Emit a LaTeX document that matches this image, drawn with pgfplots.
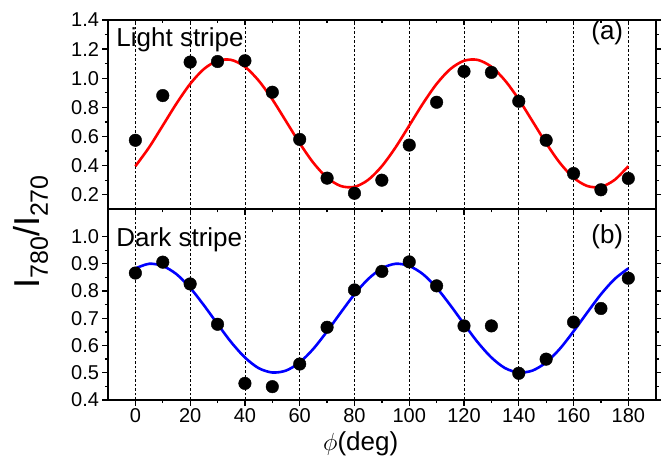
\documentclass[border=0pt]{standalone}
\usepackage{fontspec}
\setmainfont{Liberation Sans}
\usepackage{pgfplots}
\pgfplotsset{compat=1.18}

\pgfplotsset{
  stripe/.style={
    scale only axis, width=547.7bp,
    xmin=-10, xmax=190,
    xtick={0,20,...,180}, minor x tick num=1,
    tick align=outside, xtick pos=left, ytick pos=both,
    major tick length=5.5bp, minor tick length=3bp,
    axis line style={line width=1.6bp},
    every tick/.style={black, line width=1.3bp},
    xmajorgrids,
    grid style={black, line width=0.7bp, dash pattern=on 2.5bp off 2bp},
    tick label style={font=\fontsize{20bp}{24bp}\selectfont},
    /pgf/number format/assume math mode=true,
    y tick label style={/pgf/number format/.cd, fixed, fixed zerofill, precision=1},
  },
  pts/.style={only marks, mark=*, mark size=6.3bp, black, mark options={fill=black, draw=black}},
  fitline/.style={smooth, line width=2.6bp, mark=none},
}

\begin{document}
\begin{tikzpicture}
% ---------- (b) dark stripe ----------
\begin{axis}[stripe, name=bot, at={(0,0)}, anchor=south west,
  height=190.7bp, ymin=0.4, ymax=1.1,
  ytick={0.4,0.5,...,1.01}, minor y tick num=1]
\addplot[fitline, blue] coordinates {
 (0,0.883) (5,0.900) (10,0.892) (15,0.862) (20,0.812) (25,0.748) (30,0.679)
 (35,0.612) (40,0.556) (45,0.517) (50,0.501) (55,0.508) (60,0.538) (65,0.588)
 (70,0.652) (75,0.721) (80,0.788) (85,0.844) (90,0.883) (95,0.900) (100,0.892)
 (105,0.862) (110,0.812) (115,0.748) (120,0.679) (125,0.612) (130,0.556)
 (135,0.517) (140,0.501) (145,0.508) (150,0.538) (155,0.588) (160,0.652)
 (165,0.721) (170,0.788) (175,0.844) (180,0.883)};
\addplot[pts] coordinates {
 (0,0.866) (10,0.906) (20,0.826) (30,0.678) (40,0.461) (50,0.449) (60,0.532)
 (70,0.667) (80,0.804) (90,0.872) (100,0.907) (110,0.819) (120,0.672)
 (130,0.672) (140,0.498) (150,0.550) (160,0.686) (170,0.736) (180,0.847)};
\node[anchor=base west, font=\fontsize{26bp}{30bp}\selectfont]
  at (axis description cs:0.009,0.8075) {Dark stripe};
\node[anchor=base east, font=\fontsize{26bp}{30bp}\selectfont]
  at (axis description cs:0.947,0.823) {(b)};
\end{axis}

% ---------- (a) light stripe ----------
\begin{axis}[stripe, name=top, at={(0,190.7bp)}, anchor=south west,
  height=189.3bp, ymin=0.1, ymax=1.4,
  ytick={0.2,0.4,...,1.41}, minor y tick num=1, xticklabels={}]
\addplot[fitline, red] coordinates {
 (0,0.396) (5,0.525) (10,0.675) (15,0.826) (20,0.961) (25,1.063) (30,1.120)
 (35,1.126) (40,1.079) (45,0.984) (50,0.855) (55,0.705) (60,0.554) (65,0.419)
 (70,0.317) (75,0.260) (80,0.254) (85,0.302) (90,0.396) (95,0.525) (100,0.675)
 (105,0.826) (110,0.961) (115,1.063) (120,1.120) (125,1.126) (130,1.079)
 (135,0.984) (140,0.855) (145,0.705) (150,0.554) (155,0.419) (160,0.317)
 (165,0.260) (170,0.254) (175,0.302) (180,0.396)};
\addplot[pts] coordinates {
 (0,0.574) (10,0.881) (20,1.111) (30,1.115) (40,1.120) (50,0.904) (60,0.580)
 (70,0.314) (80,0.210) (90,0.300) (100,0.541) (110,0.835) (120,1.047)
 (130,1.040) (140,0.842) (150,0.574) (160,0.346) (170,0.234) (180,0.312)};
\node[anchor=base west, font=\fontsize{26bp}{30bp}\selectfont]
  at (axis description cs:0.009,0.859) {Light stripe};
\node[anchor=base east, font=\fontsize{26bp}{30bp}\selectfont]
  at (axis description cs:0.947,0.896) {(a)};
\end{axis}

% top edge ticks of panel (a), pointing into the panel
\begin{axis}[stripe, at={(0,190.7bp)}, anchor=south west,
  height=189.3bp, ymin=0.1, ymax=1.4, xmajorgrids=false,
  tick align=inside, xtick pos=right, ytick=\empty, xticklabels={}]
\end{axis}

% axis titles
\node[rotate=90, inner sep=0pt] at (-77bp,168bp)
  {\fontsize{36bp}{38bp}\selectfont I\raisebox{-0.22em}{\fontsize{25bp}{26bp}\selectfont 780}/I\raisebox{-0.22em}{\fontsize{25bp}{26bp}\selectfont 270}};
\node[anchor=base, font=\fontsize{26bp}{30bp}\selectfont] at (252.7bp,-50bp)
  {$\phi$(deg)};

\pgfresetboundingbox
\path[use as bounding box] (-108bp,-60bp) rectangle (561bp,400bp);
\end{tikzpicture}
\end{document}
